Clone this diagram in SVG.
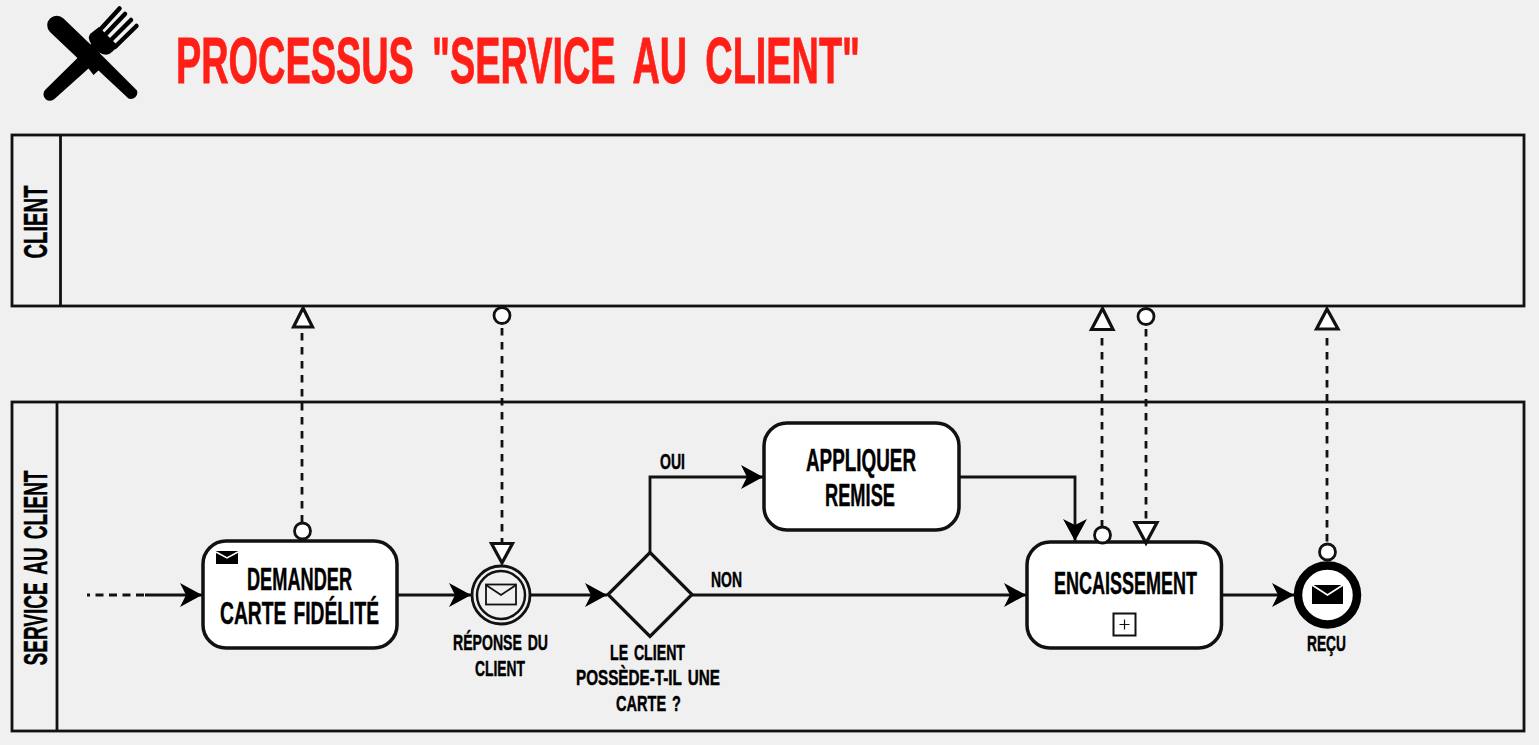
<svg xmlns="http://www.w3.org/2000/svg" width="1539" height="745" viewBox="0 0 1539 745">
<style>
.t{font-family:"Liberation Sans Narrow","Liberation Sans",Arial,sans-serif;font-weight:700;fill:#000;stroke:#000;stroke-width:.45;word-spacing:3px;}
.title{fill:#ff1f17;stroke:#ff1f17;stroke-width:.8;font-size:64px;word-spacing:13px;}
.lg{font-size:32px;}
.md{font-size:22.5px;}
.pool{fill:none;stroke:#111;stroke-width:2.8;}
.task{fill:#fff;stroke:#111;stroke-width:3.5;}
.seq{fill:none;stroke:#111;stroke-width:2.8;marker-end:url(#arrow);}
.msg{fill:none;stroke:#111;stroke-width:2.8;stroke-dasharray:7.500 6.500;}
.dot{fill:#fff;stroke:#111;stroke-width:2.8;}
.tri{fill:#fff;stroke:#111;stroke-width:3.2;stroke-linejoin:miter;}
</style>
<defs>
<marker id="arrow" markerUnits="userSpaceOnUse" markerWidth="24" markerHeight="26" refX="22" refY="12" orient="auto"><path d="M0 0L22 12L0 24L6 12Z" fill="#000"/></marker>
</defs>
<rect width="1539" height="745" fill="#f0f0f0"/>
<g id="icon" fill="#000">
<path d="M63.500 18.500L101.500 55L137 90.500A6.500 6.500 0 0 1 128.500 98.500L98.500 70.500L93.500 75L88.500 68.500L50 32A9.500 9.500 0 0 1 63.500 18.500Z"/>
<path d="M78.500 57L45 90A6.500 6.500 0 0 0 55 98.500L88.500 68.500L100 53L92 43Z"/>
<path d="M90 34L99 27L118 46L112 52Q107 57 100 53L92 45Q87 39 90 34Z"/>
<path d="M98.500 31.500L119.500 8.500M104 36L125 14M110 41L131 20M115 47L136.500 26" fill="none" stroke="#000" stroke-width="4.500" stroke-linecap="round"/>
</g>
<text class="t title" x="176" y="83" textLength="684" lengthAdjust="spacingAndGlyphs">PROCESSUS "SERVICE AU CLIENT"</text>
<g id="pool-client">
<rect class="pool" x="12" y="135" width="1512" height="171"/>
<path class="pool" d="M60.500 135V306"/>
<text class="t" transform="translate(46.500 258.500) rotate(-90)" style="font-size:33px" textLength="73" lengthAdjust="spacingAndGlyphs">CLIENT</text>
</g>
<g id="pool-service">
<rect class="pool" x="12" y="402" width="1512" height="329"/>
<path class="pool" d="M57 402V731"/>
<text class="t" transform="translate(46.500 665.500) rotate(-90)" style="font-size:33px;word-spacing:5px" textLength="195" lengthAdjust="spacingAndGlyphs">SERVICE AU CLIENT</text>
</g>
<g id="connectors">
<path d="M87 595H145" fill="none" stroke="#111" stroke-width="2.800" stroke-dasharray="8 5.500" stroke-dashoffset="5"/>
<path class="seq" d="M145 595H202"/>
<path class="seq" d="M397 595H471"/>
<path class="seq" d="M531 595H607"/>
<path class="seq" d="M692 595H1026"/>
<path class="seq" d="M650 552V477H763"/>
<path class="seq" d="M959 477H1075V541"/>
<path class="seq" d="M1222 595H1294"/>
<path class="msg" d="M302 333V523"/>
<path class="msg" d="M502 328V543"/>
<path class="msg" d="M1102 338V527"/>
<path class="msg" d="M1146 329V522"/>
<path class="msg" d="M1327 338V544"/>
</g>
<g id="task-demander">
<rect class="task" x="203" y="541" width="194" height="107" rx="23"/>
<path d="M216 551H238V564H216Z" fill="#000"/>
<path d="M216 552L227 558L238 552" fill="none" stroke="#fff" stroke-width="1.500"/>
<text class="t lg" x="247" y="590" textLength="105" lengthAdjust="spacingAndGlyphs">DEMANDER</text>
<text class="t lg" x="220" y="624" textLength="159" lengthAdjust="spacingAndGlyphs">CARTE FIDÉLITÉ</text>
</g>
<g id="event-reponse">
<circle cx="501" cy="595" r="29" fill="#f0f0f0" stroke="#111" stroke-width="2.800"/>
<circle cx="501" cy="595" r="24" fill="#f0f0f0" stroke="#111" stroke-width="2.500"/>
<rect x="486" y="584.500" width="30" height="20" fill="none" stroke="#111" stroke-width="1.800"/>
<path d="M486 585L501 595L516 585" fill="none" stroke="#111" stroke-width="1.800"/>
<text class="t md" x="453" y="650" textLength="95" lengthAdjust="spacingAndGlyphs">RÉPONSE DU</text>
<text class="t md" x="475" y="676" textLength="50" lengthAdjust="spacingAndGlyphs">CLIENT</text>
</g>
<g id="gateway">
<path d="M650 552.500L692 594.500L650 636.500L608 594.500Z" fill="#f0f0f0" stroke="#111" stroke-width="3.200"/>
<text class="t md" x="610" y="660" textLength="75" lengthAdjust="spacingAndGlyphs">LE CLIENT</text>
<text class="t md" x="576" y="685" textLength="144" lengthAdjust="spacingAndGlyphs">POSSÈDE-T-IL UNE</text>
<text class="t md" x="616" y="711" textLength="65" lengthAdjust="spacingAndGlyphs">CARTE ?</text>
</g>
<g id="labels">
<text class="t md" x="660" y="469" textLength="25" lengthAdjust="spacingAndGlyphs">OUI</text>
<text class="t md" x="711" y="587" textLength="31" lengthAdjust="spacingAndGlyphs">NON</text>
</g>
<g id="task-appliquer">
<rect class="task" x="764" y="423" width="195" height="107" rx="23"/>
<text class="t lg" x="806" y="471" textLength="110" lengthAdjust="spacingAndGlyphs">APPLIQUER</text>
<text class="t lg" x="825" y="506" textLength="70" lengthAdjust="spacingAndGlyphs">REMISE</text>
</g>
<g id="task-encaissement">
<rect class="task" x="1027" y="542" width="194.500" height="106" rx="23"/>
<text class="t lg" x="1054" y="594" textLength="143" lengthAdjust="spacingAndGlyphs">ENCAISSEMENT</text>
<rect x="1113.500" y="613.500" width="22" height="22" fill="#fff" stroke="#111" stroke-width="2"/>
<path d="M1119.500 624.500H1129.500M1124.500 619.500V629.500" stroke="#111" stroke-width="1.200" fill="none"/>
</g>
<g id="event-recu">
<circle cx="1327.500" cy="595" r="29.500" fill="#fff" stroke="#000" stroke-width="8.500"/>
<path d="M1312 585H1343V604H1312Z" fill="#000"/>
<path d="M1312 585L1327.500 595L1343 585" fill="none" stroke="#fff" stroke-width="1.800"/>
<text class="t md" x="1307" y="651" textLength="39" lengthAdjust="spacingAndGlyphs">REÇU</text>
</g>
<g id="message-ends">
<circle class="dot" cx="302.500" cy="531" r="8"/>
<path class="tri" d="M303 308L312.500 327H293.500Z"/>
<circle class="dot" cx="502" cy="315.500" r="8"/>
<path class="tri" d="M491.500 543.500H512.500L502 563Z"/>
<circle class="dot" cx="1102.500" cy="535" r="8"/>
<path class="tri" d="M1102.500 308.500L1113 329.500H1091.500Z"/>
<circle class="dot" cx="1146" cy="316.500" r="8"/>
<path class="tri" d="M1135 522.500H1157L1146 543Z"/>
<circle class="dot" cx="1327.500" cy="552" r="8"/>
<path class="tri" d="M1327 309L1338 329H1316.500Z"/>
</g>
</svg>
